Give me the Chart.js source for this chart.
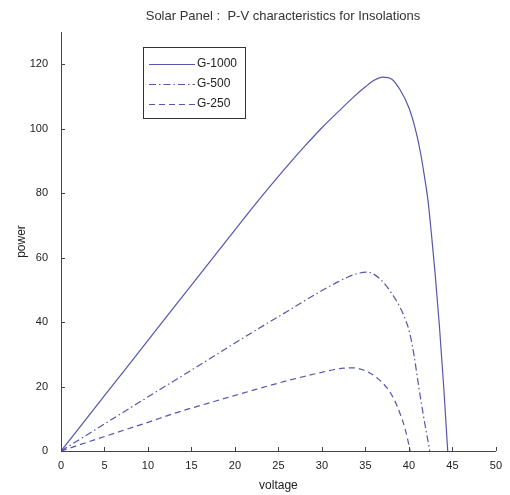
<!DOCTYPE html>
<html>
<head>
<meta charset="utf-8">
<script src="https://cdn.jsdelivr.net/npm/chart.js@4.4.0/dist/chart.umd.min.js"></script>
<style>
html,body{margin:0;padding:0;background:#fff;}
#wrap{width:510px;height:495px;position:relative;}
</style>
</head>
<body>
<div id="wrap"><canvas id="c" width="510" height="495"></canvas></div>
<script>
const titleText = "Solar Panel :  P-V characteristics for Insolations";
const xLabel = "voltage";
const yLabel = "power";
const seriesNames = ["G-1000", "G-500", "G-250"];
const xTicks = [0, 5, 10, 15, 20, 25, 30, 35, 40, 45, 50];
const yTicks = [0, 20, 40, 60, 80, 100, 120];

const v1000 = [0, 5, 10, 15, 20, 22, 24, 26, 28, 30, 32, 33.5, 35, 36, 37, 38, 39, 40, 40.7, 41.3, 41.8, 42.2, 42.6, 43, 43.5, 44, 44.46];
const p1000 = [0, 17.2, 34.3, 51.5, 68.6, 75.4, 82, 88.4, 94.5, 100.3, 105.6, 109.5, 113, 115, 116, 115.4, 112, 106.5, 100.3, 93, 85, 77.6, 67, 55.5, 39, 20, 0];

const v500 = [0, 5, 10, 15, 20, 24, 26, 28, 30, 31.5, 33, 34, 35.1, 36, 37, 38, 39, 39.6, 40.1, 40.6, 41.1, 41.7, 42.4];
const p500 = [0, 8.4, 16.8, 25.1, 33.5, 40.1, 43.3, 46.6, 49.8, 52, 54, 55, 55.5, 54.8, 52.5, 49, 44.5, 40.8, 36.5, 29.5, 20.5, 10.5, 0];

const v250 = [0, 5, 10, 13.4, 17.9, 22.4, 26, 29, 31.3, 32.5, 33.6, 34.6, 35.5, 36.5, 37.5, 38.3, 39, 39.6, 40.15];
const p250 = [0, 4.5, 8.9, 12.0, 15.6, 19.1, 21.8, 23.8, 25.2, 25.7, 25.8, 25.3, 24.2, 22.3, 19.5, 16, 11.5, 6.5, 0];

const lineColor = "#5656ad";
const axisColor = "#444444";
const FONT = "'Liberation Sans', Arial, sans-serif";

function pts(xs, ys) { return xs.map((x, i) => ({x: x, y: ys[i]})); }

const dashes = [[], [7, 3, 1.5, 3], [6, 4]];
const datasets = [
  {label: seriesNames[0], data: pts(v1000, p1000)},
  {label: seriesNames[1], data: pts(v500, p500)},
  {label: seriesNames[2], data: pts(v250, p250)}
].map((d, i) => Object.assign(d, {
  showLine: true, pointRadius: 0, borderColor: lineColor, borderWidth: 1.2,
  borderDash: dashes[i], cubicInterpolationMode: 'monotone', fill: false
}));

const decor = {
  id: 'decor',
  afterDraw(chart) {
    const ctx = chart.ctx;
    const xs = chart.scales.x, ys = chart.scales.y;
    const a = chart.chartArea;
    ctx.save();
    ctx.strokeStyle = axisColor;
    ctx.lineWidth = 1;
    ctx.beginPath();
    ctx.moveTo(a.left + 0.5, a.top);
    ctx.lineTo(a.left + 0.5, a.bottom + 0.5);
    ctx.lineTo(a.right, a.bottom + 0.5);
    ctx.stroke();
    ctx.beginPath();
    xTicks.forEach(t => {
      const px = Math.round(xs.getPixelForValue(t)) + 0.5;
      ctx.moveTo(px, a.bottom);
      ctx.lineTo(px, a.bottom - 4);
    });
    yTicks.forEach(t => {
      const py = Math.round(ys.getPixelForValue(t)) + 0.5;
      ctx.moveTo(a.left, py);
      ctx.lineTo(a.left + 4, py);
    });
    ctx.stroke();
    ctx.fillStyle = "#333";
    ctx.font = "13px " + FONT;
    ctx.textAlign = 'center';
    ctx.textBaseline = 'middle';
    ctx.fillText(titleText, 283, 16);
    const lx = 143, ly = 47, lw = 102, lh = 71;
    ctx.fillStyle = '#fff';
    ctx.fillRect(lx, ly, lw, lh);
    ctx.strokeStyle = '#333';
    ctx.strokeRect(lx + 0.5, ly + 0.5, lw, lh);
    chart.data.datasets.forEach((d, i) => {
      const yy = ly + 17 + i * 20;
      ctx.strokeStyle = d.borderColor;
      ctx.lineWidth = 1.2;
      ctx.setLineDash(d.borderDash);
      ctx.beginPath();
      ctx.moveTo(lx + 6, yy + 0.5);
      ctx.lineTo(lx + 52, yy + 0.5);
      ctx.stroke();
      ctx.setLineDash([]);
      ctx.fillStyle = '#222';
      ctx.textAlign = 'left';
      ctx.font = "12px " + FONT;
      ctx.fillText(d.label, lx + 54, yy);
    });
    ctx.restore();
  }
};

new Chart(document.getElementById('c'), {
  type: 'scatter',
  data: {datasets: datasets},
  options: {
    responsive: false,
    animation: false,
    events: [],
    layout: {padding: {top: 32, right: 4, left: 0, bottom: 0}},
    plugins: {legend: {display: false}, title: {display: false}, tooltip: {enabled: false}},
    scales: {
      x: {
        type: 'linear', min: 0, max: 50,
        afterBuildTicks(s) { s.ticks = xTicks.map(v => ({value: v})); },
        afterFit(s) { s.height = 44; },
        grid: {display: false, drawTicks: false},
        border: {display: false},
        ticks: {color: '#222', font: {size: 11, family: FONT}, padding: 8, maxRotation: 0, autoSkip: false},
        title: {display: true, text: xLabel, color: '#222', font: {size: 12, family: FONT}, padding: {top: 2, bottom: 2}}
      },
      y: {
        type: 'linear', min: 0, max: 130,
        afterBuildTicks(s) { s.ticks = yTicks.map(v => ({value: v})); },
        afterFit(s) { s.width = 61; },
        grid: {display: false, drawTicks: false},
        border: {display: false},
        ticks: {color: '#222', font: {size: 11, family: FONT}, padding: 13, autoSkip: false},
        title: {display: true, text: yLabel, color: '#222', font: {size: 12, family: FONT}, padding: {top: 14, bottom: 0}}
      }
    }
  },
  plugins: [decor]
});
</script>
</body>
</html>
